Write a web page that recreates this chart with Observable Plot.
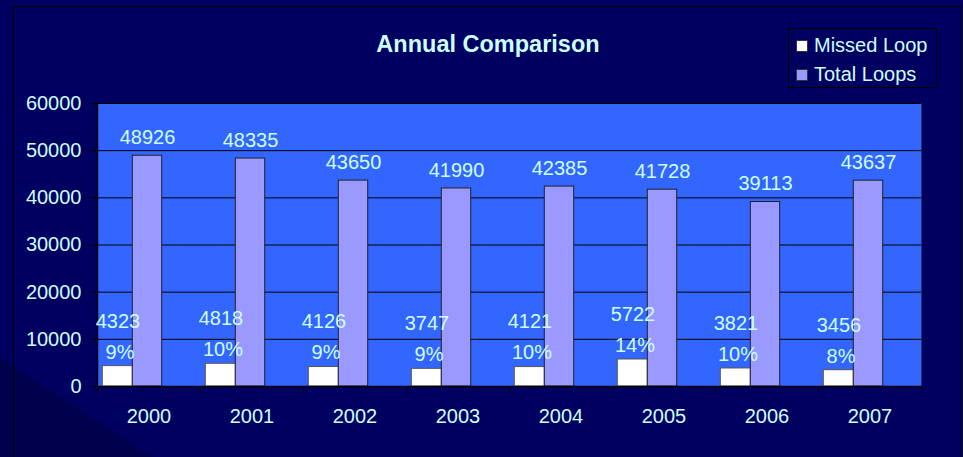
<!DOCTYPE html>
<html>
<head>
<meta charset="utf-8">
<script src="https://cdn.jsdelivr.net/npm/d3@7"></script>
<script src="https://cdn.jsdelivr.net/npm/@observablehq/plot@0.6"></script>
<style>
  html, body { margin: 0; padding: 0; }
  body {
    width: 963px; height: 457px; overflow: hidden;
    background-color: #000060;
    background-image:
      linear-gradient(33deg, #00004C 0%, #00004C 9%, transparent 9.3%);
    font-family: "Liberation Sans", Arial, sans-serif;
  }
  #wrap { position: relative; width: 963px; height: 457px; }
  #frame { position: absolute; left: 13px; top: 6px; right: 2px; bottom: -2px;
           border-top: 1px solid #000; border-left: 1px solid #000; border-right: 1px solid #000; }
  #chart { position: absolute; left: 0; top: 0; }
  #title { position: absolute; left: 288px; width: 400px; top: 30px; text-align: center;
           font-weight: bold; font-size: 23.5px; color: #CCFFFF; line-height: 28px; }
  #legend { position: absolute; left: 788px; top: 28px; width: 147px; height: 58px;
            border: 1px solid #000; color: #CCFFFF; font-size: 20px; }
  .item { position: absolute; left: 7px; height: 24px; line-height: 24px; white-space: nowrap; }
  .sw { display: inline-block; width: 10px; height: 10px; border: 1px solid #333;
        margin-right: 6px; vertical-align: 0px; }
</style>
</head>
<body>
<div id="wrap">
  <div id="frame"></div>
  <div id="chart"></div>
  <div id="title">Annual Comparison</div>
  <div id="legend"></div>
</div>
<script>
const years = ["2000", "2001", "2002", "2003", "2004", "2005", "2006", "2007"];
const missedLoop = [4323, 4818, 4126, 3747, 4121, 5722, 3821, 3456];
const totalLoops = [48926, 48335, 43650, 41990, 42385, 41728, 39113, 43637];
const missedPct = ["9%", "10%", "9%", "9%", "10%", "14%", "10%", "8%"];
const yTicks = [0, 10000, 20000, 30000, 40000, 50000, 60000];
const seriesNames = ["Missed Loop", "Total Loops"];
const seriesColors = ["#FFFFFF", "#9999FF"];

const rows = years.map((year, i) => ({
  year, missed: missedLoop[i], total: totalLoops[i], pct: missedPct[i]
}));

const textColor = "#CCFFFF";
const half = 51.5;

const chart = Plot.plot({
  width: 963,
  height: 457,
  marginLeft: 97,
  marginRight: 42,
  marginTop: 103,
  marginBottom: 71,
  style: { background: "transparent", color: textColor, fontFamily: "Liberation Sans, Arial, sans-serif", fontSize: "20px" },
  x: { domain: years, padding: 0, axis: null },
  y: { domain: [0, 60000], axis: null },
  marks: [
    Plot.frame({ fill: "#3366FF" }),
    Plot.ruleY(yTicks, { stroke: "#000", strokeWidth: 1 }),
    Plot.ruleX([years[years.length - 1]], { dx: half, y1: 0, y2: 60000, stroke: "#223366", strokeWidth: 1 }),
    Plot.barY(rows, { x: "year", y: "missed", fill: seriesColors[0], stroke: "#555", strokeWidth: 1, insetLeft: 5.3, insetRight: 67.7 }),
    Plot.barY(rows, { x: "year", y: "total", fill: seriesColors[1], stroke: "#222", strokeWidth: 1, insetLeft: 35.3, insetRight: 38.3 }),
    Plot.ruleY([0], { stroke: "#000", strokeWidth: 1.5 }),
    Plot.ruleX([years[0]], { dx: -half, y1: 0, y2: 60000, stroke: "#000", strokeWidth: 1.5 }),
    // x boundary ticks
    Plot.ruleX(years, { x: d => d, dx: -half, y1: 0, y2: 0, insetBottom: -6, stroke: "#000" }),
    Plot.ruleX([years[years.length - 1]], { x: d => d, dx: half, y1: 0, y2: 0, insetBottom: -6, stroke: "#000" }),
    Plot.axisY(yTicks, { tickSize: 7, tickPadding: 9, stroke: "#000", fill: textColor, fontSize: 20, label: null, tickFormat: d => String(d) }),
    Plot.axisX({ tickSize: 0, tickPadding: 22, fill: textColor, fontSize: 20, label: null }),
    Plot.text(rows, { x: "year", y: "total", text: d => String(d.total), dx: -1.5, dy: -18, fill: textColor, fontSize: 20 }),
    Plot.text(rows, { x: "year", y: "missed", text: "pct", dx: -29, dy: -14, fill: textColor, fontSize: 20 }),
    Plot.text(rows, { x: "year", y: "missed", text: d => String(d.missed), dx: -31, dy: -45, fill: textColor, fontSize: 20 })
  ]
});
document.getElementById("chart").appendChild(chart);

const legend = document.getElementById("legend");
seriesNames.forEach((name, i) => {
  const item = document.createElement("div");
  item.className = "item";
  item.style.top = (4 + i * 29) + "px";
  const sw = document.createElement("span");
  sw.className = "sw";
  sw.style.background = seriesColors[i];
  item.appendChild(sw);
  item.appendChild(document.createTextNode(name));
  legend.appendChild(item);
});
</script>
</body>
</html>
